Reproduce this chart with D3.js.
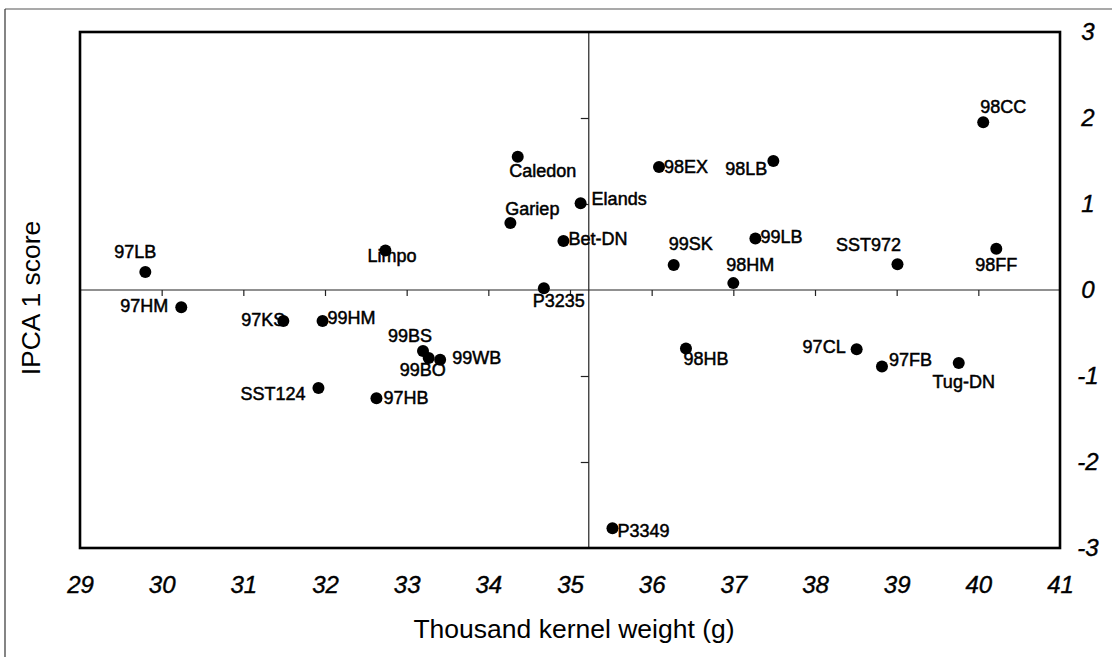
<!DOCTYPE html>
<html>
<head>
<meta charset="utf-8">
<script src="https://cdn.jsdelivr.net/npm/d3@7"></script>
<style>
  html, body { margin: 0; padding: 0; background: #fff; }
  svg { display: block; }
  text { font-family: "Liberation Sans", Arial, sans-serif; fill: #000; }
</style>
</head>
<body>
<svg id="chart" width="1112" height="657"></svg>
<script>
// Cultivar / environment labels and their coordinates
const names = ["97LB", "Limpo", "97HM", "97KS", "99HM", "SST124", "97HB", "99BS", "99BO", "99WB",
  "P3235", "Caledon", "Gariep", "Elands", "Bet-DN", "98EX", "98LB", "99SK", "98HM", "99LB",
  "SST972", "98CC", "98FF", "98HB", "P3349", "97CL", "97FB", "Tug-DN"];
// Thousand kernel weight (g)
const tkw = [29.80, 32.74, 30.24, 31.49, 31.97, 31.92, 32.63, 33.20, 33.27, 33.41,
  34.68, 34.36, 34.27, 35.13, 34.92, 36.09, 37.49, 36.27, 37.00, 37.27,
  39.01, 40.06, 40.22, 36.42, 35.52, 38.51, 38.82, 39.76];
// IPCA 1 score
const ipca1 = [0.21, 0.46, -0.20, -0.36, -0.36, -1.14, -1.26, -0.71, -0.79, -0.81,
  0.02, 1.55, 0.78, 1.01, 0.57, 1.43, 1.50, 0.29, 0.08, 0.60,
  0.30, 1.95, 0.48, -0.68, -2.77, -0.69, -0.89, -0.85];

const xTicks = [29, 30, 31, 32, 33, 34, 35, 36, 37, 38, 39, 40, 41];
const yTicks = [3, 2, 1, 0, -1, -2, -3];
const tkwMean = 35.23;

// Label placement next to each dot: [anchor, dx, dy]
const labelLayout = {
  "97LB": ["middle", -10, -14], "Limpo": ["start", -18, 12], "97HM": ["end", -13, 5],
  "97KS": ["end", 2, 5], "99HM": ["start", 5, 3], "SST124": ["end", -13, 12],
  "97HB": ["start", 7, 6], "99BS": ["middle", -13, -9], "99BO": ["middle", -6, 18],
  "99WB": ["start", 12, 4], "P3235": ["middle", 15, 19], "Caledon": ["middle", 25, 20],
  "Gariep": ["middle", 22, -8], "Elands": ["start", 11, 2], "Bet-DN": ["start", 5, 4],
  "98EX": ["start", 5, 6], "98LB": ["end", -6, 14], "99SK": ["middle", 17, -15],
  "98HM": ["middle", 17, -12], "99LB": ["start", 5, 5], "SST972": ["middle", -29, -13],
  "98CC": ["middle", 20, -9], "98FF": ["middle", 0, 22], "98HB": ["middle", 20, 17],
  "P3349": ["start", 5, 9], "97CL": ["end", -11, 4], "97FB": ["start", 7, -1],
  "Tug-DN": ["middle", 5, 25]
};

const svg = d3.select("#chart");
const plotL = 80, plotR = 1060, plotT = 32, plotB = 548;

const x = d3.scaleLinear().domain([29, 41]).range([plotL, plotR]);
const y = d3.scaleLinear().domain([-3, 3]).range([plotB, plotT]);
const plainNum = d => String(d);

// outer frame (top and left edges)
svg.append("line").attr("x1", 5).attr("x2", 1112).attr("y1", 9).attr("y2", 9)
  .attr("stroke", "#555").attr("stroke-width", 1.2);
svg.append("line").attr("x1", 5).attr("x2", 5).attr("y1", 9).attr("y2", 657)
  .attr("stroke", "#333").attr("stroke-width", 1.2);

// reference lines at IPCA 1 = 0 and mean kernel weight
svg.append("line").attr("x1", plotL).attr("x2", plotR).attr("y1", y(0)).attr("y2", y(0))
  .attr("stroke", "#222").attr("stroke-width", 1.2);
svg.append("line").attr("x1", x(tkwMean)).attr("x2", x(tkwMean)).attr("y1", plotT).attr("y2", plotB)
  .attr("stroke", "#222").attr("stroke-width", 1.2);

// tick marks along the zero line
const xZeroAxis = d3.axisBottom(x).tickValues(xTicks.slice(1, -1)).tickSize(6).tickFormat("");
svg.append("g").attr("transform", `translate(0,${y(0)})`).call(xZeroAxis)
  .call(g => g.select(".domain").remove())
  .call(g => g.selectAll(".tick line").attr("stroke", "#222").attr("stroke-width", 1.2));

// tick marks along the mean line
const yMeanAxis = d3.axisLeft(y).tickValues([-2, -1, 1, 2]).tickSize(8).tickFormat("");
svg.append("g").attr("transform", `translate(${x(tkwMean)},0)`).call(yMeanAxis)
  .call(g => g.select(".domain").remove())
  .call(g => g.selectAll(".tick line").attr("stroke", "#222").attr("stroke-width", 1.2));

// plot frame
svg.append("rect").attr("x", plotL).attr("y", plotT).attr("width", plotR - plotL).attr("height", plotB - plotT)
  .attr("fill", "none").attr("stroke", "#000").attr("stroke-width", 2.6);

// x axis labels below the frame
const xAxis = d3.axisBottom(x).tickValues(xTicks).tickSize(0).tickPadding(28).tickFormat(plainNum);
svg.append("g").attr("transform", `translate(0,${plotB})`).call(xAxis)
  .call(g => g.select(".domain").remove())
  .call(g => g.selectAll("text")
    .attr("font-family", "'Liberation Sans', Arial, sans-serif")
    .attr("font-size", 24).attr("font-style", "italic").attr("fill", "#000")
    .attr("stroke", "#000").attr("stroke-width", 0.4));

// y axis labels to the right of the frame
const yAxis = d3.axisRight(y).tickValues(yTicks).tickSize(0).tickPadding(0).tickFormat(plainNum);
svg.append("g").attr("transform", `translate(1088,0)`).call(yAxis)
  .call(g => g.select(".domain").remove())
  .call(g => g.selectAll("text")
    .attr("font-family", "'Liberation Sans', Arial, sans-serif")
    .attr("text-anchor", "middle")
    .attr("font-size", 24).attr("font-style", "italic").attr("fill", "#000")
    .attr("stroke", "#000").attr("stroke-width", 0.4));

// axis titles
svg.append("text").attr("x", 574).attr("y", 638).attr("text-anchor", "middle")
  .attr("font-size", 26.5).text("Thousand kernel weight (g)");
svg.append("text").attr("transform", "translate(40,298) rotate(-90)").attr("text-anchor", "middle")
  .attr("font-size", 26.5).text("IPCA 1 score");

// points
const pts = names.map((n, i) => ({ name: n, tkw: tkw[i], score: ipca1[i] }));
svg.append("g").selectAll("circle").data(pts).join("circle")
  .attr("cx", d => x(d.tkw)).attr("cy", d => y(d.score)).attr("r", 6).attr("fill", "#000");

svg.append("g").selectAll("text").data(pts).join("text")
  .attr("x", d => x(d.tkw) + labelLayout[d.name][1])
  .attr("y", d => y(d.score) + labelLayout[d.name][2])
  .attr("text-anchor", d => labelLayout[d.name][0])
  .attr("font-size", 18).attr("stroke", "#000").attr("stroke-width", 0.5)
  .text(d => d.name);
</script>
</body>
</html>
